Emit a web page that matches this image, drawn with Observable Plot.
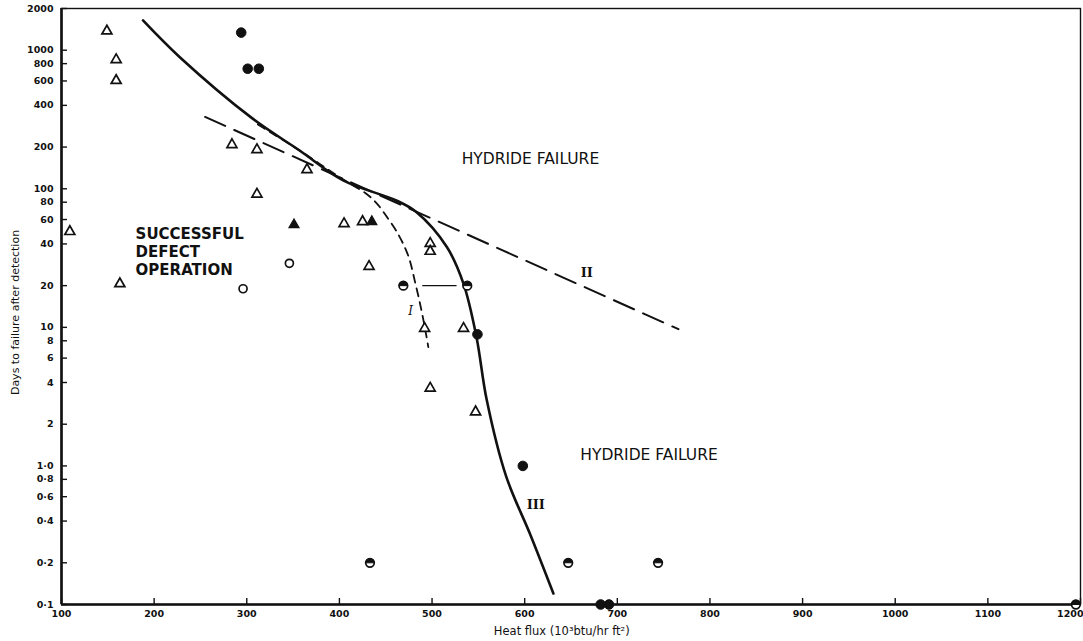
<!DOCTYPE html>
<html>
<head>
<meta charset="utf-8">
<script src="https://cdn.jsdelivr.net/npm/d3@7"></script>
<script src="https://cdn.jsdelivr.net/npm/@observablehq/plot@0.6"></script>
<style>
  html, body { margin: 0; padding: 0; background: #fff; }
  #chart svg { display: block; }
</style>
</head>
<body>
<div id="chart"></div>
<script>
// Days to failure after defect detection vs. heat flux (10^3 btu/hr ft^2)

// Open triangles [heat flux, days]
const openTriangles = [
  [149, 1400], [159, 870], [159, 615], [109, 50], [163, 21],
  [284, 212], [311, 195], [311, 93], [365, 140], [405, 57], [425, 59],
  [432, 28], [498, 41], [498, 36], [492, 10], [534, 10], [498, 3.7], [547, 2.5]
];
// Filled triangles
const filledTriangles = [[351, 56], [435, 59]];
// Open circles
const openCircles = [[346, 29], [296, 19]];
// Filled circles
const filledCircles = [
  [294, 1340], [301, 735], [313, 735], [549, 8.9], [598, 1.0], [682, 0.1], [691, 0.1]
];
// Half-filled circles
const halfCircles = [[469, 20], [538, 20], [433, 0.2], [647, 0.2], [744, 0.2], [1195, 0.1]];
// Bar joining the pair of half-filled circles at 20 days
const pairLinkX = [490, 527];
const pairLinkDays = 20;

// Boundary III (solid)
const curveIII = [
  [188, 1640], [228, 886], [306, 322], [357, 189], [404, 115], [462, 82], [483, 68],
  [516, 38], [534, 20.6], [548, 8.5], [559, 3.0], [580, 0.84], [606, 0.32], [631, 0.12]
];
// Boundary I (short dashes)
const curveI = [
  [312, 291], [357, 189], [402, 119], [429, 92], [454, 59], [472, 36],
  [482.5, 20.1], [490, 11.9], [496, 7.2]
];
// Boundary II (long dashes)
const lineII = [[255, 330], [766, 9.7]];

// Axis ticks and labels
const xTicks = [100, 200, 300, 400, 500, 600, 700, 800, 900, 1000, 1100, 1200];
const xTickLabels = ["100", "200", "300", "400", "500", "600", "700", "800", "900", "1000", "1100", "1200"];
const yTicks = [0.1, 0.2, 0.4, 0.6, 0.8, 1, 2, 4, 6, 8, 10, 20, 40, 60, 80, 100, 200, 400, 600, 800, 1000, 2000];
const yTickLabels = ["0·1", "0·2", "0·4", "0·6", "0·8", "1·0", "2", "4", "6", "8", "10", "20", "40", "60", "80", "100", "200", "400", "600", "800", "1000", "2000"];

// Marker shapes
const triangle = {
  draw(ctx, size) {
    const r = Math.sqrt(size / Math.PI);
    ctx.moveTo(0, -r * 0.95);
    ctx.lineTo(r, r * 0.8);
    ctx.lineTo(-r, r * 0.8);
    ctx.closePath();
  }
};
const topHalf = {
  draw(ctx, size) {
    const r = Math.sqrt(size / Math.PI);
    ctx.moveTo(-r, 0);
    ctx.arc(0, 0, r, Math.PI, 2 * Math.PI);
    ctx.closePath();
  }
};

const X = d => d[0], Y = d => d[1];
const ink = "#111";
const tickText = { fontWeight: "bold", fontSize: 9.5, fill: ink };
const lastX = xTicks.length - 1;

const chart = Plot.plot({
  width: 1083,
  height: 641,
  marginLeft: 61,
  marginRight: 3,
  marginTop: 8,
  marginBottom: 37,
  style: { fontFamily: "DejaVu Sans, sans-serif", fontSize: "10px", background: "#fff", color: ink },
  x: { type: "linear", domain: [100, 1200] },
  y: { type: "log", domain: [0.1, 2000] },
  marks: [
    Plot.frame({ stroke: ink, strokeWidth: 1.4 }),
    Plot.ruleX([100], { stroke: ink, strokeWidth: 2.6 }),
    Plot.ruleY([0.1], { stroke: ink, strokeWidth: 2.6 }),

    // tick marks pointing inward
    Plot.axisY({ ticks: yTicks, tickSize: -6, fill: "none", stroke: ink, strokeWidth: 1.4, label: null }),
    Plot.axisX({ ticks: xTicks, tickSize: -6, fill: "none", stroke: ink, strokeWidth: 1.4, label: null }),

    // tick labels
    Plot.text(yTicks, {
      y: d => d, text: (d, i) => yTickLabels[i], frameAnchor: "left",
      textAnchor: "end", dx: -8, ...tickText
    }),
    Plot.text(xTicks.slice(0, lastX), {
      x: d => d, text: (d, i) => xTickLabels[i], frameAnchor: "bottom",
      lineAnchor: "top", textAnchor: "middle", dy: 6, ...tickText
    }),
    Plot.text([xTicks[lastX]], {
      x: d => d, text: () => xTickLabels[lastX], frameAnchor: "bottom",
      lineAnchor: "top", textAnchor: "end", dx: 3, dy: 6, ...tickText
    }),

    // boundaries
    Plot.line(lineII, { x: X, y: Y, stroke: ink, strokeWidth: 2, strokeDasharray: "22,10" }),
    Plot.line(curveI, { x: X, y: Y, stroke: ink, strokeWidth: 1.8, strokeDasharray: "8,6", curve: "monotone-y" }),
    Plot.line(curveIII, { x: X, y: Y, stroke: ink, strokeWidth: 2.6, curve: "catmull-rom" }),
    Plot.ruleY([pairLinkDays], { x1: pairLinkX[0], x2: pairLinkX[1], stroke: ink, strokeWidth: 1.4 }),

    // data points
    Plot.dot(openTriangles, { x: X, y: Y, symbol: triangle, r: 5, fill: "#fff", stroke: ink, strokeWidth: 1.7 }),
    Plot.dot(filledTriangles, { x: X, y: Y, symbol: triangle, r: 5, fill: ink, stroke: ink, strokeWidth: 1.2 }),
    Plot.dot(openCircles, { x: X, y: Y, r: 4, fill: "#fff", stroke: ink, strokeWidth: 1.7 }),
    Plot.dot(halfCircles, { x: X, y: Y, r: 4.3, fill: "#fff", stroke: ink, strokeWidth: 1.7 }),
    Plot.dot(halfCircles, { x: X, y: Y, symbol: topHalf, r: 4.3, fill: ink, stroke: ink, strokeWidth: 1 }),
    Plot.dot(filledCircles, { x: X, y: Y, r: 4.8, fill: ink, stroke: ink, strokeWidth: 1 }),

    // region and curve labels
    Plot.text(["HYDRIDE FAILURE"], { x: 532, y: 165, text: d => d, textAnchor: "start", fontSize: 15.5, fill: ink }),
    Plot.text(["HYDRIDE FAILURE"], { x: 660, y: 1.2, text: d => d, textAnchor: "start", fontSize: 15.5, fill: ink }),
    Plot.text(["SUCCESSFUL\nDEFECT\nOPERATION"], {
      x: 180, y: 35.3, text: d => d, textAnchor: "start", fontSize: 15, fontWeight: "bold", lineHeight: 1.2, fill: ink
    }),
    Plot.text(["I"], { x: 477, y: 13.1, text: d => d, fontSize: 12, fontStyle: "italic", fontFamily: "DejaVu Serif", fill: ink }),
    Plot.text(["II"], { x: 667, y: 24.6, text: d => d, fontSize: 13, fontWeight: "bold", fontFamily: "DejaVu Serif", fill: ink }),
    Plot.text(["III"], { x: 612, y: 0.52, text: d => d, fontSize: 13, fontWeight: "bold", fontFamily: "DejaVu Serif", fill: ink }),

    // axis titles
    Plot.text(["Heat flux (10³btu/hr ft²)"], {
      x: 640, frameAnchor: "bottom", textAnchor: "middle", lineAnchor: "bottom", dy: 30, text: d => d, fontSize: 11.5, fill: ink
    }),
    Plot.text(["Days to failure after detection"], {
      y: 12.8, frameAnchor: "left", textAnchor: "middle", dx: -46, rotate: -90, text: d => d, fontSize: 11, fill: ink
    })
  ]
});

document.getElementById("chart").appendChild(chart);
</script>
</body>
</html>
